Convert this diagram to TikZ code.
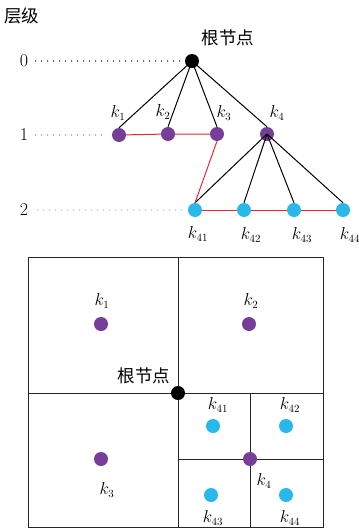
\documentclass[tikz,border=0pt]{standalone}
\usepackage{fontspec}
\newfontfamily\cjk{Noto Sans CJK SC}
\begin{document}
\begin{tikzpicture}[x=1pt,y=-1pt,
  dot/.style={circle,inner sep=0pt,minimum size=14pt},
  rootdot/.style={dot,fill=black},
  purp/.style={dot,fill=nodepurple},
  cyan/.style={dot,fill=nodecyan},
  tree/.style={black,line width=1pt},
  link/.style={linkred,line width=1pt},
  grid/.style={black!85,line width=1pt},
  guide/.style={line width=1.4pt,line cap=round,dash pattern=on 0pt off 6pt},
  lvl/.style={font=\fontsize{18}{18}\selectfont},
  klab/.style={font=\fontsize{16}{16}\selectfont},
  zh/.style={font=\cjk\fontsize{17.5}{17.5}\selectfont}]
\definecolor{nodepurple}{RGB}{118,62,152}
\definecolor{nodecyan}{RGB}{40,184,234}
\definecolor{linkred}{RGB}{232,40,48}
\definecolor{guidepurple}{RGB}{130,120,210}
\definecolor{guidecyan}{RGB}{120,200,235}
\useasboundingbox (0,0) rectangle (359,528);

% ---- tree of levels ----
\node[zh] (title) at (22,16) {层级};
\node[lvl] (l0) at (24,61) {0};
\node[lvl] (l1) at (24,135) {1};
\node[lvl] (l2) at (24,210) {2};

\node[rootdot] (r) at (192,61) {};
\node[zh] (rlab) at (228,38) {根节点};
\node[purp] (k1) at (119,135) {};
\node[purp] (k2) at (168,134) {};
\node[purp] (k3) at (217,134) {};
\node[purp] (k4) at (267,134) {};
\node[cyan] (k41) at (195,210) {};
\node[cyan] (k42) at (244,210) {};
\node[cyan] (k43) at (294,210) {};
\node[cyan] (k44) at (343,210) {};

\node[klab] at (118,113) {$k_1$};
\node[klab] at (163,112) {$k_2$};
\node[klab] at (224,113) {$k_3$};
\node[klab] at (277,113) {$k_4$};
\node[klab] at (198,234) {$k_{41}$};
\node[klab] at (251,235) {$k_{42}$};
\node[klab] at (302,235) {$k_{43}$};
\node[klab] at (350,235) {$k_{44}$};

\draw[guide,black] (l0.east)+(4,0) -- (r.west);
\draw[guide,guidepurple] (l1.east)+(4,0) -- ([xshift=-6pt]k1.west);
\draw[guide,guidecyan] (l2.east)+(6,0) -- ([xshift=-5pt]k41.west);

\foreach \c in {k1,k2,k3,k4} \draw[tree] (r.center) -- (\c.north);
\foreach \c in {k41,k42,k43,k44} \draw[tree] (k4.center) -- (\c.north);
\draw[link] (k1) -- (k2) -- (k3);
\draw[link] (k3.south) -- (k41.north);
\draw[link] (k41) -- (k42) -- (k43) -- (k44);

% ---- quadtree partition ----
\coordinate (tl) at (28,257);
\coordinate (br) at (323,527);
\coordinate (c) at (178,393);
\coordinate (c4) at (250,459);
\draw[grid] (tl) rectangle (br);
\draw[grid] (c |- tl) -- (c |- br);
\draw[grid] (tl |- c) -- (br |- c);
\draw[grid] (c4 |- c) -- (c4 |- br);
\draw[grid] (c |- c4) -- (br |- c4);

\node[rootdot] (q0) at (c) {};
\node[zh,anchor=east] at (174,376) {根节点};
\node[purp] (q1) at (101,324) {};
\node[purp] (q2) at (249,324) {};
\node[purp] (q3) at (101,459) {};
\node[purp] (q4) at (c4) {};
\node[cyan] (q41) at (213,426) {};
\node[cyan] (q42) at (286,426) {};
\node[cyan] (q43) at (211,495) {};
\node[cyan] (q44) at (286,495) {};

\node[klab] at (102,301) {$k_1$};
\node[klab] at (251,301) {$k_2$};
\node[klab] at (107,490) {$k_3$};
\node[klab] at (264,481) {$k_4$};
\node[klab] at (218,405) {$k_{41}$};
\node[klab] at (290,405) {$k_{42}$};
\node[klab] at (213,518) {$k_{43}$};
\node[klab] at (290,518) {$k_{44}$};
\end{tikzpicture}
\end{document}
